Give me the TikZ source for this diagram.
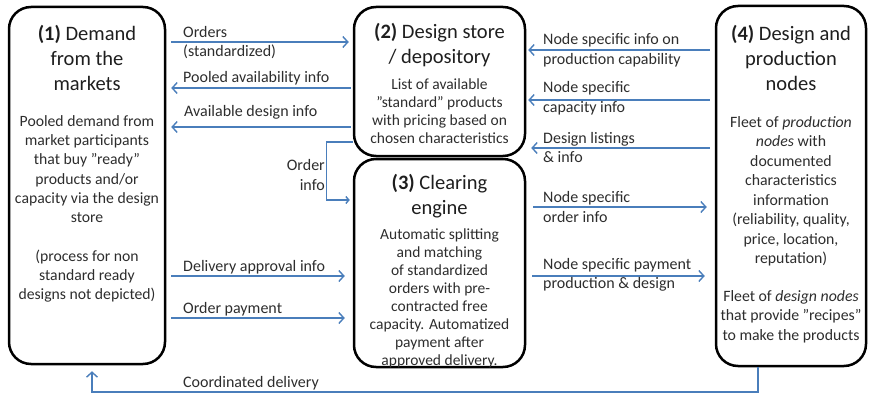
\documentclass[tikz,border=0pt]{standalone}
\usepackage{fontspec}
\setmainfont{Carlito}
\usetikzlibrary{arrows.meta,calc}
\definecolor{arrowblue}{RGB}{74,126,187}
\definecolor{txt}{RGB}{45,45,45}
\definecolor{ttl}{RGB}{30,30,30}
\begin{document}
\begin{tikzpicture}[x=1pt,y=-1pt,
  box/.style={draw=black,line width=2.5pt,rounded corners=22pt,inner sep=0pt},
  title/.style={font=\fontsize{20.5}{25}\selectfont,align=center,text=ttl,inner sep=0pt},
  body/.style={font=\fontsize{15.5}{18}\selectfont,align=center,text=txt,inner sep=0pt},
  bodyA/.style={font=\fontsize{15.7}{19.3}\selectfont,align=center,text=txt,inner sep=0pt},
  bodyD/.style={font=\fontsize{15.8}{19.5}\selectfont,align=center,text=txt,inner sep=0pt},
  lbl/.style={font=\fontsize{16}{19.5}\selectfont,align=left,text=txt,inner sep=0pt,anchor=west},
  arr/.style={draw=arrowblue,line width=1.4pt,-{Straight Barb[length=5pt,width=11pt]}}]
\useasboundingbox (0,0) rectangle (870,396);

% boxes
\node[box,minimum width=156pt,minimum height=357pt] (b1) at (87,185.5) {};
\node[box,minimum width=171pt,minimum height=149pt] (b2) at (439.5,81.5) {};
\node[box,minimum width=171pt,minimum height=208pt] (b3) at (439.5,263) {};
\node[box,minimum width=150pt,minimum height=360pt] (b4) at (791,186) {};

% box texts
\node[title] (t1) at (87,58) {\textbf{(1)} Demand\\from the\\markets};
\node[bodyA] (d1) at (87,209) {Pooled demand from\\market participants\\that buy ”ready”\\products and/or\\capacity via the design\\store\\[19.3pt](process for non\\standard ready\\designs not depicted)};

\node[title] (t2) at (439.5,45.5) {\textbf{(2)} Design store\\/ depository};
\node[body] (d2) at (439.5,111.5) {List of available\\”standard” products\\with pricing based on\\chosen characteristics};

\node[title] (t3) at (439.5,196) {\textbf{(3)} Clearing\\engine};
\node[body] (d3) at (439.5,298.5) {Automatic splitting\\and matching\\of standardized\\orders with pre-\\contracted free\\capacity. Automatized\\payment after\\approved delivery.};

\node[title] (t4) at (791,58) {\textbf{(4)} Design and\\production\\nodes};
\node[bodyD] (d4) at (791,229.5) {Fleet of \textit{production}\\\textit{nodes} with\\documented\\characteristics\\information\\(reliability, quality,\\price, location,\\reputation)\\[18pt]Fleet of \textit{design nodes}\\that provide ”recipes”\\to make the products};

% connectors between 1 and 2/3
\draw[arr,shorten <=5pt,shorten >=4pt] (b1.east |- 0,42) -- (b2.west |- 0,42);
\draw[arr,shorten <=2pt,shorten >=5pt] (b2.west |- 0,88) -- (b1.east |- 0,88);
\draw[arr,shorten <=2pt,shorten >=5pt] (b2.west |- 0,127) -- (b1.east |- 0,127);
\draw[arr,-{Straight Barb[length=3pt,width=7pt]},shorten >=3pt] (b2.west |- 0,142) -- ++(-26,0) |- (b3.west |- 0,200);
\draw[arr,shorten <=5pt,shorten >=8pt] (b1.east |- 0,276) -- (b3.west |- 0,276);
\draw[arr,shorten <=5pt,shorten >=8pt] (b1.east |- 0,318) -- (b3.west |- 0,318);

% connectors between 4 and 2/3
\draw[arr,shorten <=5pt,shorten >=2pt] (b4.west |- 0,50) -- (b2.east |- 0,50);
\draw[arr,shorten <=5pt,shorten >=2pt] (b4.west |- 0,100) -- (b2.east |- 0,100);
\draw[arr,shorten <=5pt,shorten >=5pt] (b4.west |- 0,148) -- (b2.east |- 0,148);
\draw[arr,shorten <=7pt,shorten >=8pt] (b3.east |- 0,207) -- (b4.west |- 0,207);
\draw[arr,shorten <=6pt,shorten >=10pt] (b3.east |- 0,276) -- (b4.west |- 0,276);

% coordinated delivery
\draw[arr,shorten >=6pt] (b4.south -| 758,0) -- (758,392) -| (b1.south -| 92,0);

% labels
\node[lbl] (l1) at (183,42.5) {Orders\\(standardized)};
\node[lbl] (l2) at (183,78) {Pooled availability info};
\node[lbl] (l3) at (184,112) {Available design info};
\node[lbl,anchor=east,align=right] (l4) at (325,175) {Order\\info};
\node[lbl] (l5) at (183,267) {Delivery approval info};
\node[lbl] (l6) at (183,309) {Order payment};
\node[lbl] (l7) at (183,383) {Coordinated delivery};

\node[lbl] (r1) at (543,50) {Node specific info on\\production capability};
\node[lbl] (r2) at (543,98) {Node specific\\capacity info};
\node[lbl] (r3) at (543,147.5) {Design listings\\\& info};
\node[lbl] (r4) at (543,207) {Node specific\\order info};
\node[lbl] (r5) at (543,275) {Node specific payment\\production \& design};
\end{tikzpicture}
\end{document}
